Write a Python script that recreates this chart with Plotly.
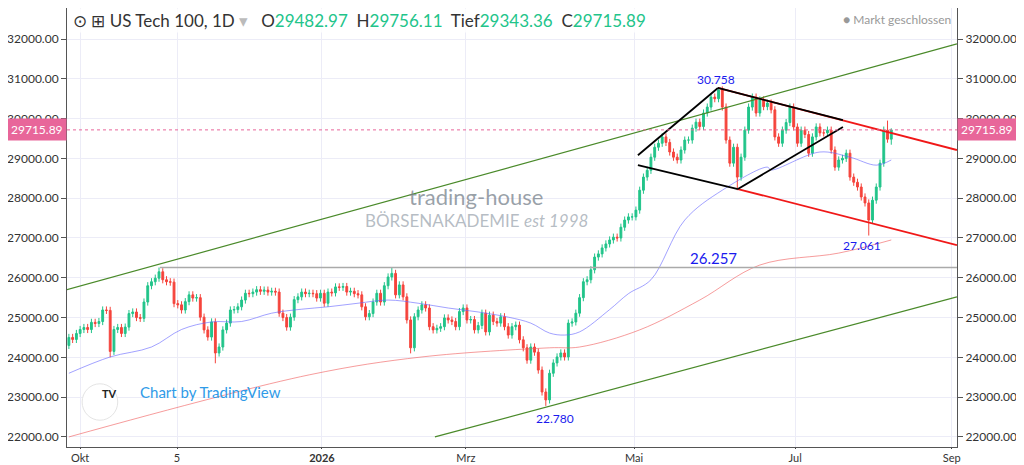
import plotly.graph_objects as go

# Closing prices, one per trading day
closes = [
    24500, 24450, 24600, 24700, 24750, 24700, 24880, 24850, 24900, 25190,
    25180, 24150, 24700, 24750, 24600, 24760, 25100, 25140, 25000, 24980,
    25390, 25800, 25900, 25990, 26150, 25950, 25900, 25890, 25350, 25320,
    25190, 25400, 25570, 25490, 25500, 25010, 24690, 24510, 24890, 24110,
    24260, 24690, 24860, 25190, 25200, 25270, 25440, 25610, 25600, 25640,
    25700, 25660, 25690, 25640, 25660, 25640, 25110, 25000, 24760, 25010,
    25450, 25520, 25640, 25600, 25610, 25600, 25490, 25610, 25360, 25640,
    25620, 25770, 25760, 25780, 25640, 25660, 25600, 25570, 25270, 25020,
    25100, 25390, 25610, 25390, 25800, 26020, 26110, 25570, 25820, 25520,
    24940, 24240, 25020, 25190, 25320, 25240, 24770, 24690, 24730, 24770,
    24990, 24940, 24900, 24770, 25150, 25240, 24940, 24950, 24690, 24800,
    25110, 24640, 25060, 24900, 24860, 25020, 24770, 24560, 24770, 24810,
    24440, 24240, 23930, 24260, 24130, 23680, 23130, 22930, 23600, 23860,
    24010, 24110, 24010, 24860, 24890, 25110, 25500, 25900, 25950, 26200,
    26520, 26600, 26750, 26850, 26950, 27020, 27000, 27270, 27450, 27530,
    27530, 27700, 28200, 28530, 28700, 29030, 29280, 29380, 29540, 29400,
    29160, 29030, 28960, 29210, 29460, 29460, 29760, 29910, 29800, 30140,
    30290, 30540, 30500, 30720, 30290, 29460, 28880, 29280, 28530, 29030,
    29710, 30290, 30540, 30140, 30470, 30300, 30390, 30220, 29540, 29380,
    29710, 29900, 30290, 29790, 29380, 29710, 29600, 29130, 29540, 29790,
    29640, 29640, 29710, 29210, 28780, 28960, 29000, 29130, 28530, 28400,
    28280, 28030, 27880, 27450, 27950, 28280, 28880, 29710, 29482.97, 29715.89,
]
first_open = 24300
# marked extremes (candle index -> price)
high_marks = {24: 26257, 86: 26257, 173: 30758, 218: 29950, 219: 29756.11}
low_marks = {11: 24000, 39: 23850, 91: 24100, 127: 22780, 178: 28200, 213: 27061, 219: 29343.36}

# moving averages, sampled points (candle index, price)
ma_fast_x = [0, 11, 22, 30, 38, 46, 54, 62, 69, 77, 85, 93, 101, 109, 117, 123, 128, 132, 136,
             144, 149, 155, 164, 174, 186, 187, 200, 208, 215, 219]
ma_fast_y = [23600, 24010, 24260, 24700, 24890, 24900, 25110, 25210, 25270, 25360, 25440, 25360,
             25240, 25140, 25010, 24860, 24610, 24560, 24640, 25200, 25600, 25950, 27450, 28200,
             28780, 28710, 29160, 29030, 28830, 28960]
ma_slow_x = [0, 64, 94, 128, 136, 152, 168, 184, 205, 219]
ma_slow_y = [22000, 23560, 24010, 24240, 24260, 24690, 25440, 26320, 26620, 26950]

y_ticks = [22000, 23000, 24000, 25000, 26000, 27000, 28000, 29000, 30000, 31000, 32000, 33000]
x_tick_pos = [3, 28.8, 67.4, 105.7, 150.5, 193.4, 235.1]
x_tick_text = ["Okt", "5", "<b>2026</b>", "Mrz", "Mai", "Jul", "Sep"]

n = len(closes)
idx = list(range(n))
opens = [first_open] + closes[:-1]
opens[-1] = 29482.97
highs = [high_marks.get(i, max(o, c) + 90) for i, (o, c) in enumerate(zip(opens, closes))]
lows = [low_marks.get(i, min(o, c) - 90) for i, (o, c) in enumerate(zip(opens, closes))]
last = closes[-1]

fig = go.Figure()
fig.add_trace(go.Scatter(x=ma_slow_x, y=ma_slow_y, mode="lines", line_shape="spline",
                         line=dict(color="rgba(240,90,90,0.6)", width=1), hoverinfo="skip"))
fig.add_trace(go.Scatter(x=ma_fast_x, y=ma_fast_y, mode="lines", line_shape="spline",
                         line=dict(color="rgba(100,100,255,0.6)", width=1), hoverinfo="skip"))
fig.add_trace(go.Candlestick(
    x=idx, open=opens, high=highs, low=lows, close=closes,
    increasing=dict(line=dict(color="#22c48a", width=1), fillcolor="#22c48a"),
    decreasing=dict(line=dict(color="#f5443c", width=1), fillcolor="#f5443c"),
    whiskerwidth=0,
))
# invisible trace for the right axis
fig.add_trace(go.Scatter(x=[0], y=[last], yaxis="y2", mode="markers",
                         marker=dict(opacity=0), hoverinfo="skip"))


def seg(x0, y0, x1, y1, color, width):
    fig.add_shape(type="line", x0=x0, y0=y0, x1=x1, y1=y1, xref="x", yref="y",
                  line=dict(color=color, width=width))


def px(xp):
    return (xp - 69) / 3.755


seg(px(67), 25700, px(957), 31880, "#4a8a2a", 1.2)
seg(px(435), 22000, px(957), 25520, "#4a8a2a", 1.2)
seg(px(160), 26257, px(957), 26257, "#aaaaaa", 1.5)
seg(px(718), 30770, px(957), 29210, "#f01818", 1.8)
seg(px(738), 28230, px(957), 26820, "#f01818", 1.8)
seg(px(638), 29080, px(718), 30770, "black", 1.8)
seg(px(638), 28830, px(738), 28230, "black", 1.8)
seg(px(718), 30770, px(843), 29960, "black", 1.8)
seg(px(738), 28230, px(843), 29790, "black", 1.8)
fig.add_shape(type="line", x0=-0.5, x1=236.5, y0=last, y1=last, xref="x", yref="y",
              line=dict(color="#e8669a", width=1, dash="dot"))

blue = "#1a1aee"
for xp, yv, t, s in [(716, 30990, "30.758", 12), (862, 26810, "27.061", 12),
                     (714, 26500, "26.257", 15), (555, 22470, "22.780", 12)]:
    fig.add_annotation(x=px(xp), y=yv, text=t, showarrow=False, font=dict(color=blue, size=s))

fig.add_annotation(x=0.46, y=0.57, xref="paper", yref="paper", showarrow=False,
                   text="trading-house", font=dict(size=22, color="rgba(120,130,140,0.75)"))
fig.add_annotation(x=0.46, y=0.515, xref="paper", yref="paper", showarrow=False,
                   text="BÖRSENAKADEMIE <i>est 1998</i>",
                   font=dict(size=17, color="rgba(150,160,170,0.7)"))
fig.add_shape(type="circle", xref="paper", yref="paper", x0=0.017, x1=0.057, y0=0.061, y1=0.144,
              line=dict(color="#e4e4e4", width=1), fillcolor="white")
fig.add_annotation(x=0.037, y=0.102, xref="paper", yref="paper", showarrow=False,
                   text="<b>TV</b>", font=dict(size=11, color="#222"))
fig.add_annotation(x=0.08, y=0.10, xref="paper", yref="paper", xanchor="left", showarrow=False,
                   text="Chart by TradingView", font=dict(size=15, color="#2f9be8"))

# header
fig.add_annotation(x=0.005, y=1.0, xref="paper", yref="paper", xanchor="left", yanchor="top",
                   showarrow=False, bgcolor="rgba(255,255,255,0.85)",
                   text="⊙ ⊞ US Tech 100, 1D <span style='color:#bbb'>▾</span>   "
                        "O<span style='color:#22c48a'>29482.97</span>  "
                        "H<span style='color:#22c48a'>29756.11</span>  "
                        "Tief<span style='color:#22c48a'>29343.36</span>  "
                        "C<span style='color:#22c48a'>29715.89</span>",
                   font=dict(size=17, color="#333", family="Lato"))
fig.add_annotation(x=0.995, y=0.995, xref="paper", yref="paper", xanchor="right", yanchor="top",
                   showarrow=False, text="● Markt geschlossen",
                   font=dict(size=12, color="#999", family="Lato"))

# price labels (cover the axis labels, as in the original)
for xa, anchor in [(0, "right"), (1, "left")]:
    fig.add_annotation(x=xa, y=last, xref="paper", yref="y", xanchor=anchor, showarrow=False,
                       text=f"{last:.2f}", bgcolor="#e8669a", font=dict(color="white", size=12),
                       borderpad=3)

yrange = [21747, 32779]
axis_common = dict(range=yrange, tickvals=y_ticks, ticktext=[f"{v}.00" for v in y_ticks],
                   gridcolor="#ececf7", showline=True, linecolor="#555", ticks="outside",
                   ticklen=5, tickcolor="#555", tickfont=dict(size=12, color="#333"),
                   zeroline=False, automargin=False)
fig.update_layout(
    width=1024, height=465, template="plotly_white", showlegend=False,
    margin=dict(l=59, r=75, t=0, b=26),
    plot_bgcolor="white", paper_bgcolor="white",
    font=dict(family="Lato, Roboto, sans-serif"),
    xaxis=dict(range=[-0.5, 236.5], tickvals=x_tick_pos, ticktext=x_tick_text, rangeslider_visible=False,
               gridcolor="#ececf7", showline=True, linecolor="#555", ticks="outside", ticklen=1,
               tickfont=dict(size=11, color="#333"), zeroline=False, automargin=False),
    yaxis=dict(side="left", **axis_common),
    yaxis2=dict(side="right", overlaying="y", showgrid=False, **axis_common),
)

fig.write_html("out.html")
